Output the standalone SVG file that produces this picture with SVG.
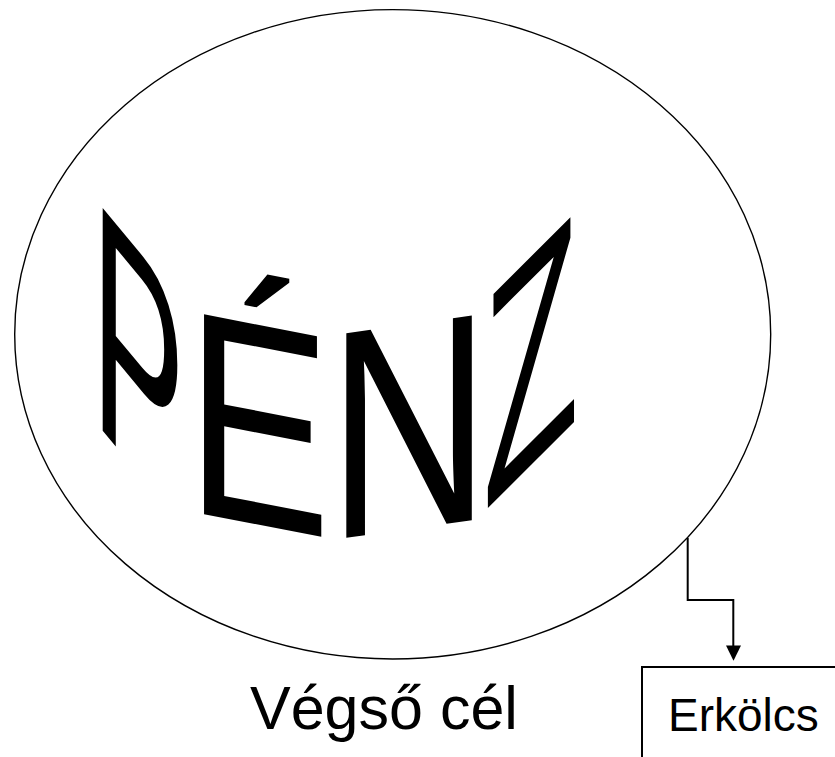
<svg xmlns="http://www.w3.org/2000/svg" width="835" height="757" viewBox="0 0 835 757">
<style>
.warp{font-family:"Liberation Sans",Arial,sans-serif;font-size:100px;fill:#000}
.lbl{font-family:"Liberation Sans",Arial,sans-serif;fill:#000}
.ln{fill:none;stroke:#000;stroke-width:2}
</style>
<defs>
<marker id="arr" viewBox="0 0 15 15" refX="7.5" refY="15" markerWidth="15" markerHeight="15" markerUnits="userSpaceOnUse" orient="auto-start-reverse">
<path d="M0,0 L15,0 L7.5,15 Z" fill="#000"/>
</marker>
</defs>
<rect width="835" height="757" fill="#fff"/>
<g id="node-penz">
<ellipse cx="392.7" cy="334.3" rx="378" ry="324.7" fill="#fff" stroke="#000" stroke-width="1.4"/>
<g id="penz-text">
<text class="warp" transform="matrix(1.402 1.69 0 3.24 91.2 417)">P</text>
<text class="warp" transform="matrix(2.163 0.417 0 2.905 186.3 510.8)">É</text>
<text class="warp" transform="matrix(2.246 -0.315 0 2.975 327.9 540.4)">N</text>
<text class="warp" transform="matrix(1.572 -1.572 0 3.03 482.9 513.1)">Z</text>
</g>
</g>
<g id="node-vegso">
<text class="lbl" x="250" y="729" font-size="61">Végső cél</text>
</g>
<g id="node-erkolcs">
<rect x="642" y="667" width="210" height="110" fill="#fff" stroke="#000" stroke-width="2"/>
<text class="lbl" x="668" y="731" font-size="46">Erkölcs</text>
</g>
<g id="connectors">
<path class="ln" d="M687.7,538 V600 H733.3 V646"/>
<path d="M726,645.5 L741,645.5 L733.5,660.7 Z" fill="#000"/>
</g>
</svg>
